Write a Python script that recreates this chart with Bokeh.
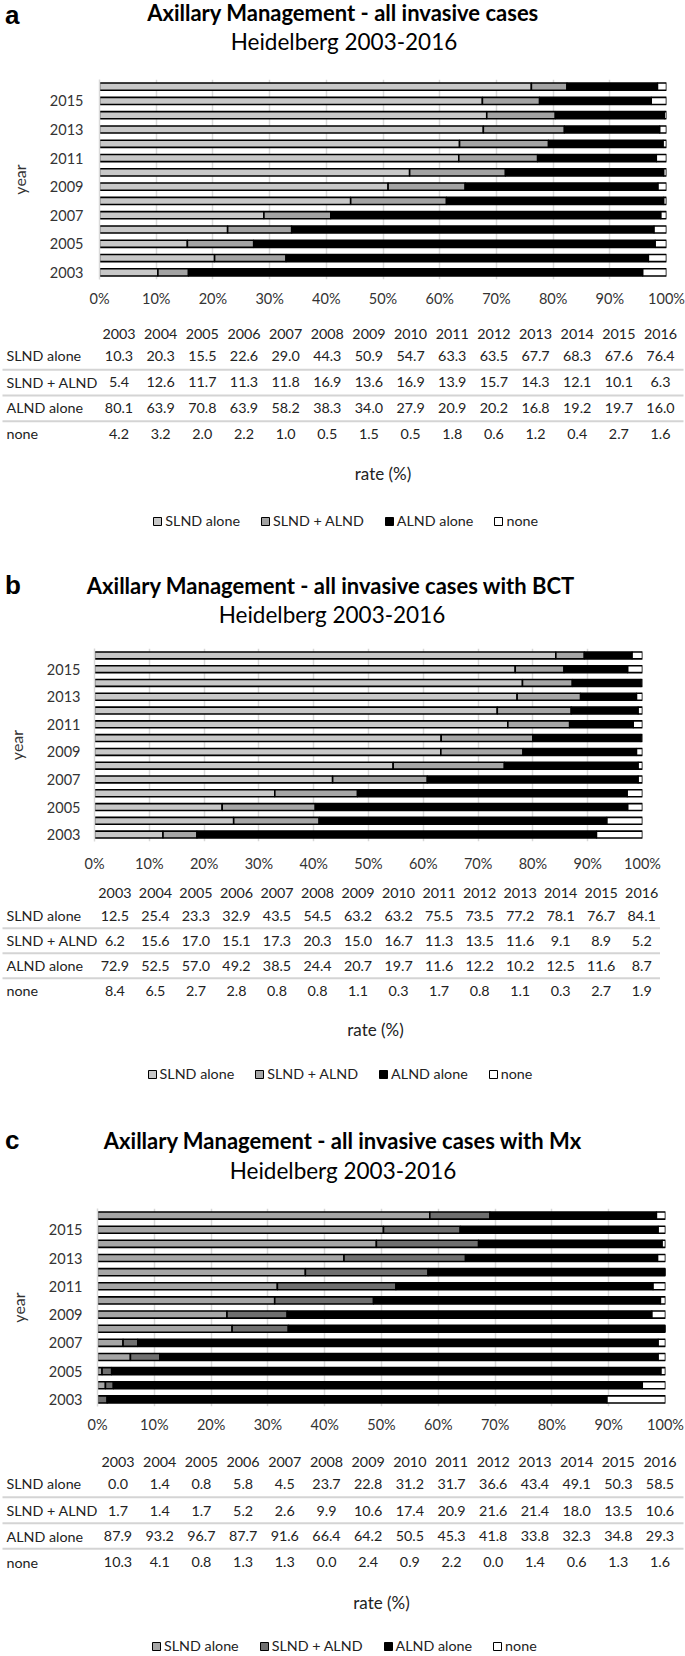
from bokeh.plotting import figure
from bokeh.models import (Range1d, FixedTicker, PrintfTickFormatter, Legend,
                          LegendItem, ColumnDataSource)
from bokeh.embed import file_html
from bokeh.resources import INLINE
from bokeh.core.properties import value

# ---------------- data ----------------
years = [2003, 2004, 2005, 2006, 2007, 2008, 2009, 2010, 2011, 2012, 2013, 2014, 2015, 2016]
series = ["SLND alone", "SLND + ALND", "ALND alone", "none"]
y_tick_years = [2003, 2005, 2007, 2009, 2011, 2013, 2015]
x_ticks = [0, 10, 20, 30, 40, 50, 60, 70, 80, 90, 100]

a_slnd = [10.3, 20.3, 15.5, 22.6, 29.0, 44.3, 50.9, 54.7, 63.3, 63.5, 67.7, 68.3, 67.6, 76.4]
a_both = [5.4, 12.6, 11.7, 11.3, 11.8, 16.9, 13.6, 16.9, 13.9, 15.7, 14.3, 12.1, 10.1, 6.3]
a_alnd = [80.1, 63.9, 70.8, 63.9, 58.2, 38.3, 34.0, 27.9, 20.9, 20.2, 16.8, 19.2, 19.7, 16.0]
a_none = [4.2, 3.2, 2.0, 2.2, 1.0, 0.5, 1.5, 0.5, 1.8, 0.6, 1.2, 0.4, 2.7, 1.6]

b_slnd = [12.5, 25.4, 23.3, 32.9, 43.5, 54.5, 63.2, 63.2, 75.5, 73.5, 77.2, 78.1, 76.7, 84.1]
b_both = [6.2, 15.6, 17.0, 15.1, 17.3, 20.3, 15.0, 16.7, 11.3, 13.5, 11.6, 9.1, 8.9, 5.2]
b_alnd = [72.9, 52.5, 57.0, 49.2, 38.5, 24.4, 20.7, 19.7, 11.6, 12.2, 10.2, 12.5, 11.6, 8.7]
b_none = [8.4, 6.5, 2.7, 2.8, 0.8, 0.8, 1.1, 0.3, 1.7, 0.8, 1.1, 0.3, 2.7, 1.9]

c_slnd = [0.0, 1.4, 0.8, 5.8, 4.5, 23.7, 22.8, 31.2, 31.7, 36.6, 43.4, 49.1, 50.3, 58.5]
c_both = [1.7, 1.4, 1.7, 5.2, 2.6, 9.9, 10.6, 17.4, 20.9, 21.6, 21.4, 18.0, 13.5, 10.6]
c_alnd = [87.9, 93.2, 96.7, 87.7, 91.6, 66.4, 64.2, 50.5, 45.3, 41.8, 33.8, 32.3, 34.8, 29.3]
c_none = [10.3, 4.1, 0.8, 1.3, 1.3, 0.0, 2.4, 0.9, 2.2, 0.0, 1.4, 0.6, 1.3, 1.6]

panel_letters = ["a", "b", "c"]
panel_titles = ["Axillary Management - all invasive cases",
                "Axillary Management - all invasive cases with BCT",
                "Axillary Management - all invasive cases with Mx"]
subtitle = "Heidelberg 2003-2016"
x_label = "rate (%)"
y_label = "year"

# ---------------- styles ----------------
colors_a = ["#c8c8c8", "#a3a3a3", "#000000", "#ffffff"]
colors_b = ["#c8c8c8", "#a6a6a6", "#000000", "#ffffff"]
colors_c = ["#a6a6a6", "#6f6f6f", "#000000", "#ffffff"]

FONT = "Lato"
TXT = "#222222"
AX = "#333333"
TABLE_FS = "14.3px"
W = 685
LETTER_FS, TITLE_FS, SUB_FS = 26, 22, 22.5

# layout measured on the reference (page pixel coordinates);
# letter/title/sub give x and text baseline
LAY = [
    dict(cuts=(0, 62, 312, 560), letter=(4.4, 23.6), title=(342.5, 19.3), sub=(343.5, 48.3),
         frame=(98.9, 665.6, 78.85, 279.15), ytick_right=83.2, xtick_cy=297.0,
         col0=118.5, col_last=660.0, header=333.3, rows=[355.0, 381.7, 407.3, 433.3],
         seps=[369.3, 395.0, 420.7], sep_x=(2, 683), rate=(382.5, 473.0), legend=(152.3, 521.0)),
    dict(cuts=(560, 637, 875, 1110), letter=(4.4, 593.3), title=(330.5, 591.7), sub=(331.5, 620.7),
         frame=(94.1, 642.5, 648.4, 840.9), ytick_right=80.0, xtick_cy=862.3,
         col0=114.4, col_last=641.2, header=892.7, rows=[915.0, 940.0, 965.0, 990.0],
         seps=[927.7, 952.7, 977.7], sep_x=(2, 659.5), rate=(375.0, 1029.0), legend=(146.6, 1074.3)),
    dict(cuts=(1110, 1195, 1437, 1656), letter=(4.4, 1148.3), title=(342.5, 1146.7), sub=(342.5, 1177.3),
         frame=(97.2, 665.2, 1207.7, 1406.4), ytick_right=81.8, xtick_cy=1423.3,
         col0=117.5, col_last=659.5, header=1461.7, rows=[1483.3, 1510.0, 1535.7, 1561.7],
         seps=[1496.7, 1522.7, 1548.3], sep_x=(2, 683), rate=(381.0, 1601.7), legend=(151.0, 1646.0)),
]


def blank(h, xr, yr):
    f = figure(width=W, height=h, x_range=xr, y_range=yr, output_backend="svg",
               toolbar_location=None, x_axis_location=None, y_axis_location=None,
               min_border_left=0, min_border_right=0, min_border_top=0, min_border_bottom=0)
    f.outline_line_color = None
    f.grid.visible = False
    return f


def header_fig(L, letter, title):
    top = L["cuts"][0]
    h = L["cuts"][1] - top
    f = blank(h, Range1d(0, W), Range1d(h, 0))
    f.text(x=[L["letter"][0]], y=[L["letter"][1] - top - 0.347 * LETTER_FS], text=[letter],
           text_font=value("Liberation Sans"), text_font_style="bold",
           text_font_size="%spx" % LETTER_FS,
           text_align="left", text_baseline="middle", text_color="black")
    f.text(x=[L["title"][0]], y=[L["title"][1] - top - 0.31 * TITLE_FS], text=[title],
           text_font=value(FONT), text_font_style="bold", text_font_size="%spx" % TITLE_FS,
           text_align="center", text_baseline="middle", text_color="black")
    f.text(x=[L["sub"][0]], y=[L["sub"][1] - top - 0.31 * SUB_FS], text=[subtitle],
           text_font=value(FONT), text_font_size="%spx" % SUB_FS,
           text_align="center", text_baseline="middle", text_color="black")
    return f


def chart_fig(L, cols, colors):
    top = L["cuts"][1]
    h = L["cuts"][2] - top
    fl = round(L["frame"][0])
    fr = round(L["frame"][1])
    ft = round(L["frame"][2] - top)
    fb = round(L["frame"][3] - top)
    p = figure(width=W, height=h, x_range=Range1d(0, 100), y_range=Range1d(2002.5, 2016.5),
               output_backend="svg", toolbar_location=None,
               min_border_left=fl, min_border_right=W - fr,
               min_border_top=ft, min_border_bottom=h - fb)
    p.outline_line_color = None

    totals = [sum(v) for v in zip(*cols)]
    data = {"year": years}
    keys = []
    for k, col in enumerate(cols):
        key = "s%d" % k
        data[key] = [v / t * 100.0 for v, t in zip(col, totals)]
        keys.append(key)
    src = ColumnDataSource(data)
    p.hbar_stack(keys, y="year", height=0.5, source=src, fill_color=colors,
                 line_color="black", line_width=1.6)

    xa = p.xaxis[0]
    xa.ticker = FixedTicker(ticks=x_ticks)
    xa.formatter = PrintfTickFormatter(format="%d%%")
    xa.axis_line_color = None
    xa.major_tick_line_color = None
    xa.minor_tick_line_color = None
    xa.major_tick_out = 0
    xa.major_tick_in = 0
    xa.minor_tick_out = 0
    xa.major_label_text_font = FONT
    xa.major_label_text_font_size = "14.5px"
    xa.major_label_text_color = AX
    xa.major_label_standoff = int(round(L["xtick_cy"] - L["frame"][3] - 8))

    ya = p.yaxis[0]
    ya.ticker = FixedTicker(ticks=y_tick_years)
    ya.axis_line_color = "#d9d9d9"
    ya.axis_line_width = 1.5
    ya.major_tick_line_color = None
    ya.minor_tick_line_color = None
    ya.major_tick_out = 0
    ya.major_tick_in = 0
    ya.minor_tick_out = 0
    ya.major_label_text_font = FONT
    ya.major_label_text_font_size = "14.5px"
    ya.major_label_text_color = AX
    ya.major_label_standoff = int(round(fl - L["ytick_right"]))
    ya.axis_label = y_label
    ya.axis_label_text_font = FONT
    ya.axis_label_text_font_style = "normal"
    ya.axis_label_text_font_size = "16px"
    ya.axis_label_text_color = AX
    ya.axis_label_standoff = 18

    p.xgrid.ticker = FixedTicker(ticks=x_ticks)
    p.xgrid.grid_line_color = "#d9d9d9"
    p.xgrid.grid_line_width = 1.5
    p.ygrid.visible = False
    return p


def table_fig(L, cols, colors):
    top = L["cuts"][2]
    h = L["cuts"][3] - top
    c0 = L["col0"]
    s = (L["col_last"] - c0) / (len(years) - 1)
    t = blank(h, Range1d(-c0 / s, (W - c0) / s), Range1d(h, 0))

    def X(xref):
        return (xref - c0) / s

    def Y(yref):
        return yref - top

    idx = list(range(len(years)))
    t.text(x=idx, y=[Y(L["header"])] * len(years), text=[str(y) for y in years],
           text_font=value(FONT), text_font_size=TABLE_FS, text_color=TXT,
           text_align="center", text_baseline="middle")

    cx, cy, ct = [], [], []
    for r, col in enumerate(cols):
        for i, v in enumerate(col):
            cx.append(i)
            cy.append(Y(L["rows"][r]))
            ct.append("%.1f" % v)
    t.text(x="x", y="y", text="t", source=ColumnDataSource(dict(x=cx, y=cy, t=ct)),
           text_font=value(FONT), text_font_size=TABLE_FS, text_color=TXT,
           text_align="center", text_baseline="middle")

    t.text(x=[X(6.0)] * len(series), y=[Y(r) for r in L["rows"]], text=series,
           text_font=value(FONT), text_font_size=TABLE_FS, text_color=TXT,
           text_align="left", text_baseline="middle")

    nsep = len(L["seps"])
    t.segment(x0=[X(L["sep_x"][0])] * nsep, x1=[X(L["sep_x"][1])] * nsep,
              y0=[Y(v) for v in L["seps"]], y1=[Y(v) for v in L["seps"]],
              line_color="#d4d4d4", line_width=2)

    t.text(x=[X(L["rate"][0])], y=[Y(L["rate"][1])], text=[x_label],
           text_font=value(FONT), text_font_size="17px", text_color=TXT,
           text_align="center", text_baseline="middle")

    items = []
    for name, col, vals in zip(series, colors, cols):
        r = t.hbar(y=idx, left=0, right=vals, height=0.5, fill_color=col,
                   line_color="black", line_width=1, visible=False)
        items.append(LegendItem(label=name, renderers=[r]))
    leg_h = 16
    legend = Legend(items=items, orientation="horizontal",
                    location=(L["legend"][0], h - Y(L["legend"][1]) - leg_h / 2.0),
                    glyph_width=10, glyph_height=10, label_standoff=3, spacing=20,
                    padding=0, margin=0, border_line_color=None, background_fill_alpha=0,
                    label_text_font=FONT, label_text_font_size=TABLE_FS,
                    label_text_color=TXT, label_height=leg_h)
    t.add_layout(legend)
    return t


panels = [
    ([a_slnd, a_both, a_alnd, a_none], colors_a),
    ([b_slnd, b_both, b_alnd, b_none], colors_b),
    ([c_slnd, c_both, c_alnd, c_none], colors_c),
]

roots = []
for k, (cols, colors) in enumerate(panels):
    L = LAY[k]
    roots.append(header_fig(L, panel_letters[k], panel_titles[k]))
    roots.append(chart_fig(L, cols, colors))
    roots.append(table_fig(L, cols, colors))

# separate roots so each figure keeps its own frame geometry
p = roots
open("out.html", "w").write(file_html(p, INLINE))
